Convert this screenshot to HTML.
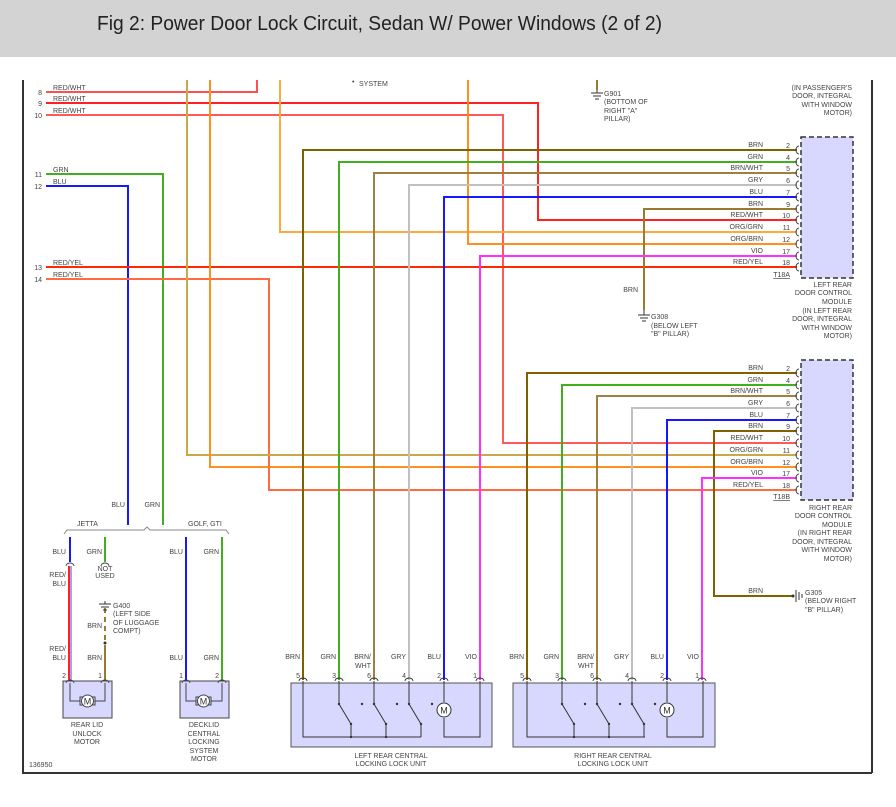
<!DOCTYPE html>
<html><head><meta charset="utf-8"><style>
html,body{margin:0;padding:0;background:#fff;}
svg{display:block;font-family:"Liberation Sans",sans-serif;}
.t{font-size:7px;fill:#444;}
.r{text-anchor:end;}
.m{text-anchor:middle;}
</style></head><body>
<svg width="896" height="807" viewBox="0 0 896 807" xmlns="http://www.w3.org/2000/svg">
<rect x="0" y="0" width="896" height="57" fill="#d3d3d3"/>
<text x="97" y="30" font-size="20" fill="#222" textLength="565" lengthAdjust="spacingAndGlyphs">Fig 2: Power Door Lock Circuit, Sedan W/ Power Windows (2 of 2)</text>
<!-- frame -->
<g stroke="#333" stroke-width="2" fill="none">
<path d="M23 80 V773 H872 M872 80 V773"/>
</g>
<g fill="none" stroke-width="2">
<!-- left side wires -->
<path d="M46 92 H257 V80" stroke="#ff5050"/>
<path d="M46 103 H538 V220 H797" stroke="#ff2020"/>
<path d="M46 115 H503 V443 H797" stroke="#ff5a5a"/>
<path d="M46 174 H163 V525" stroke="#40b020"/>
<path d="M46 186 H128 V525" stroke="#1818ff"/>
<path d="M46 267 H797" stroke="#ff2a00"/>
<path d="M46 279 H269 V490 H797" stroke="#ff6a40"/>
<!-- verticals from top -->
<path d="M187 80 V455 H797" stroke="#c8a848"/>
<path d="M210 80 V467 H797" stroke="#ff9020"/>
<path d="M280 80 V232 H797" stroke="#ffa840"/>
<path d="M468 80 V244 H797" stroke="#ff9020"/>
<!-- T18A wires -->
<path d="M797 150 H303 V680" stroke="#806000"/>
<path d="M797 162 H339 V680" stroke="#40b020"/>
<path d="M797 173 H374 V680" stroke="#a08040"/>
<path d="M797 185 H409 V680" stroke="#c0c0c0"/>
<path d="M797 197 H444 V680" stroke="#1818ff"/>
<path d="M797 209 H644 V310" stroke="#9a7a30"/>
<path d="M797 256 H480 V680" stroke="#ff30ff"/>
<!-- T18B wires -->
<path d="M797 373 H527 V680" stroke="#806000"/>
<path d="M797 385 H562 V680" stroke="#40b020"/>
<path d="M797 396 H597 V680" stroke="#a08040"/>
<path d="M797 408 H632 V680" stroke="#c0c0c0"/>
<path d="M797 420 H667 V680" stroke="#1818ff"/>
<path d="M797 431 H714 V596 H793" stroke="#806000"/>
<path d="M797 478 H702 V680" stroke="#ff30ff"/>
<!-- G901 -->
<path d="M597 80 V90" stroke="#9a7a30"/>
<!-- lower left -->
<path d="M70 537 V562" stroke="#1818ff"/>
<path d="M69 566 V680" stroke="#ff2020"/>
<path d="M71 566 V680" stroke="#4040ff" stroke-width="1"/>
<path d="M105 537 V562" stroke="#40b020"/>
<path d="M105 608 V640" stroke="#9a7a30" stroke-dasharray="5,4"/>
<path d="M105 645 V680" stroke="#9a7a30"/>
<path d="M186 537 V680" stroke="#1818ff"/>
<path d="M222 537 V680" stroke="#40b020"/>
</g>
<!-- brace -->
<path d="M64 534 L67 530 H144 L147 527 L150 530 H226 L229 534" fill="none" stroke="#888" stroke-width="1"/>
<!-- modules -->
<rect x="801" y="137" width="52" height="141" fill="#d8d8ff" stroke="#333" stroke-width="1.5" stroke-dasharray="5,3"/>
<rect x="801" y="360" width="52" height="140" fill="#d8d8ff" stroke="#333" stroke-width="1.5" stroke-dasharray="5,3"/>
<g fill="none" stroke="#444" stroke-width="1">
<path d="M799 146 a3 4 0 0 0 0 8 M799 158 a3 4 0 0 0 0 8 M799 169 a3 4 0 0 0 0 8 M799 181 a3 4 0 0 0 0 8 M799 193 a3 4 0 0 0 0 8 M799 205 a3 4 0 0 0 0 8 M799 216 a3 4 0 0 0 0 8 M799 228 a3 4 0 0 0 0 8 M799 240 a3 4 0 0 0 0 8 M799 252 a3 4 0 0 0 0 8 M799 263 a3 4 0 0 0 0 8"/>
<path d="M799 369 a3 4 0 0 0 0 8 M799 381 a3 4 0 0 0 0 8 M799 392 a3 4 0 0 0 0 8 M799 404 a3 4 0 0 0 0 8 M799 416 a3 4 0 0 0 0 8 M799 427 a3 4 0 0 0 0 8 M799 439 a3 4 0 0 0 0 8 M799 451 a3 4 0 0 0 0 8 M799 463 a3 4 0 0 0 0 8 M799 474 a3 4 0 0 0 0 8 M799 486 a3 4 0 0 0 0 8"/>
</g>
<!-- grounds -->
<g stroke="#333" stroke-width="1" fill="none">
<path d="M591 93 H603 M593 96 H601 M595 99 H599 M597 90 V93"/>
<path d="M638 315 H650 M640 318 H648 M642 321 H646 M644 310 V315"/>
<path d="M793 596 M796 590 V602 M799 592 V600 M802 594 V598"/>
<path d="M99 604 H111 M101 607 H109 M103 610 H107 M105 601 V604"/>
</g>
<circle cx="105" cy="643" r="1.5" fill="#333"/>
<circle cx="793" cy="596" r="1.5" fill="#333"/>
<!-- lower motors -->
<rect x="63" y="681" width="49" height="37" fill="#d8d8ff" stroke="#444" stroke-width="1"/>
<rect x="180" y="681" width="49" height="37" fill="#d8d8ff" stroke="#444" stroke-width="1"/>
<g fill="none" stroke="#444" stroke-width="1">
<path d="M70 683 V701 H80 M95 701 H105 V683"/>
<rect x="80" y="697" width="15" height="8"/>
<path d="M186 683 V701 H196 M211 701 H222 V683"/>
<rect x="196" y="697" width="15" height="8"/>
</g>
<circle cx="87.5" cy="701" r="6" fill="#fff" stroke="#444"/>
<text x="87.5" y="704.5" class="m" font-size="9" fill="#333">M</text>
<circle cx="203.5" cy="701" r="6" fill="#fff" stroke="#444"/>
<text x="203.5" y="704.5" class="m" font-size="9" fill="#333">M</text>
<!-- connectors small -->
<g fill="none" stroke="#444" stroke-width="1">
<path d="M66 566 a4 3 0 0 1 8 0 M101 566 a4 3 0 0 1 8 0 M66 683 a4 3 0 0 1 8 0 M101 683 a4 3 0 0 1 8 0 M182 683 a4 3 0 0 1 8 0 M218 683 a4 3 0 0 1 8 0"/>
</g>
<!-- lock units -->
<rect x="291" y="683" width="201" height="64" fill="#d8d8ff" stroke="#555" stroke-width="1"/>
<rect x="513" y="683" width="202" height="64" fill="#d8d8ff" stroke="#555" stroke-width="1"/>
<g fill="none" stroke="#333" stroke-width="1">
<path d="M299 681 a4 3 0 0 1 8 0 M335 681 a4 3 0 0 1 8 0 M370 681 a4 3 0 0 1 8 0 M405 681 a4 3 0 0 1 8 0 M440 681 a4 3 0 0 1 8 0 M476 681 a4 3 0 0 1 8 0"/>
<path d="M523 681 a4 3 0 0 1 8 0 M558 681 a4 3 0 0 1 8 0 M593 681 a4 3 0 0 1 8 0 M628 681 a4 3 0 0 1 8 0 M663 681 a4 3 0 0 1 8 0 M698 681 a4 3 0 0 1 8 0"/>
<path d="M303 681 V737 H421 M339 681 V704 L351 724 V737 M374 681 V704 L386 724 V737 M409 681 V704 L421 724 V737 M444 681 V702 M444 718 V737 H480 V681"/>
<path d="M527 681 V737 H645 M562 681 V704 L574 724 V737 M597 681 V704 L609 724 V737 M632 681 V704 L644 724 V737 M667 681 V702 M667 718 V737 H703 V681"/>
</g>
<g fill="#333">
<circle cx="339" cy="704" r="1.2"/><circle cx="351" cy="724" r="1.2"/><circle cx="374" cy="704" r="1.2"/><circle cx="386" cy="724" r="1.2"/><circle cx="409" cy="704" r="1.2"/><circle cx="421" cy="724" r="1.2"/>
<circle cx="362" cy="704" r="1.2"/><circle cx="397" cy="704" r="1.2"/><circle cx="432" cy="704" r="1.2"/><circle cx="351" cy="737" r="1.2"/><circle cx="386" cy="737" r="1.2"/>
<circle cx="562" cy="704" r="1.2"/><circle cx="574" cy="724" r="1.2"/><circle cx="597" cy="704" r="1.2"/><circle cx="609" cy="724" r="1.2"/><circle cx="632" cy="704" r="1.2"/><circle cx="644" cy="724" r="1.2"/>
<circle cx="585" cy="704" r="1.2"/><circle cx="620" cy="704" r="1.2"/><circle cx="655" cy="704" r="1.2"/><circle cx="574" cy="737" r="1.2"/><circle cx="609" cy="737" r="1.2"/>
</g>
<circle cx="444" cy="710" r="7" fill="#fff" stroke="#333"/><text x="444" y="713.5" class="m" font-size="9" fill="#333">M</text>
<circle cx="667" cy="710" r="7" fill="#fff" stroke="#333"/><text x="667" y="713.5" class="m" font-size="9" fill="#333">M</text>
<!-- text -->
<g class="t">
<text x="42" y="95" class="r">8</text><text x="53" y="90">RED/WHT</text>
<text x="42" y="106" class="r">9</text><text x="53" y="101">RED/WHT</text>
<text x="42" y="118" class="r">10</text><text x="53" y="113">RED/WHT</text>
<text x="42" y="177" class="r">11</text><text x="53" y="172">GRN</text>
<text x="42" y="189" class="r">12</text><text x="53" y="184">BLU</text>
<text x="42" y="270" class="r">13</text><text x="53" y="265">RED/YEL</text>
<text x="42" y="282" class="r">14</text><text x="53" y="277">RED/YEL</text>
<text x="359" y="86">SYSTEM</text><text x="352" y="84">•</text>
<text x="604" y="96">G901</text><text x="604" y="104">(BOTTOM OF</text><text x="604" y="113">RIGHT "A"</text><text x="604" y="121">PILLAR)</text>
<text x="852" y="90" class="r">(IN PASSENGER'S</text><text x="852" y="98" class="r">DOOR, INTEGRAL</text><text x="852" y="107" class="r">WITH WINDOW</text><text x="852" y="115" class="r">MOTOR)</text>
<text x="763" y="147" class="r">BRN</text><text x="763" y="159" class="r">GRN</text><text x="763" y="170" class="r">BRN/WHT</text><text x="763" y="182" class="r">GRY</text><text x="763" y="194" class="r">BLU</text><text x="763" y="206" class="r">BRN</text><text x="763" y="217" class="r">RED/WHT</text><text x="763" y="229" class="r">ORG/GRN</text><text x="763" y="241" class="r">ORG/BRN</text><text x="763" y="253" class="r">VIO</text><text x="763" y="264" class="r">RED/YEL</text>
<text x="790" y="148" class="r">2</text><text x="790" y="160" class="r">4</text><text x="790" y="171" class="r">5</text><text x="790" y="183" class="r">6</text><text x="790" y="195" class="r">7</text><text x="790" y="207" class="r">9</text><text x="790" y="218" class="r">10</text><text x="790" y="230" class="r">11</text><text x="790" y="242" class="r">12</text><text x="790" y="254" class="r">17</text><text x="790" y="265" class="r">18</text>
<text x="790" y="277" class="r" text-decoration="underline">T18A</text>
<text x="852" y="287" class="r">LEFT REAR</text><text x="852" y="295" class="r">DOOR CONTROL</text><text x="852" y="304" class="r">MODULE</text><text x="852" y="313" class="r">(IN LEFT REAR</text><text x="852" y="321" class="r">DOOR, INTEGRAL</text><text x="852" y="330" class="r">WITH WINDOW</text><text x="852" y="338" class="r">MOTOR)</text>
<text x="638" y="292" class="r">BRN</text>
<text x="651" y="319">G308</text><text x="651" y="328">(BELOW LEFT</text><text x="651" y="336">"B" PILLAR)</text>
<text x="763" y="370" class="r">BRN</text><text x="763" y="382" class="r">GRN</text><text x="763" y="393" class="r">BRN/WHT</text><text x="763" y="405" class="r">GRY</text><text x="763" y="417" class="r">BLU</text><text x="763" y="428" class="r">BRN</text><text x="763" y="440" class="r">RED/WHT</text><text x="763" y="452" class="r">ORG/GRN</text><text x="763" y="464" class="r">ORG/BRN</text><text x="763" y="475" class="r">VIO</text><text x="763" y="487" class="r">RED/YEL</text>
<text x="790" y="371" class="r">2</text><text x="790" y="383" class="r">4</text><text x="790" y="394" class="r">5</text><text x="790" y="406" class="r">6</text><text x="790" y="418" class="r">7</text><text x="790" y="429" class="r">9</text><text x="790" y="441" class="r">10</text><text x="790" y="453" class="r">11</text><text x="790" y="465" class="r">12</text><text x="790" y="476" class="r">17</text><text x="790" y="488" class="r">18</text>
<text x="790" y="499" class="r" text-decoration="underline">T18B</text>
<text x="852" y="510" class="r">RIGHT REAR</text><text x="852" y="518" class="r">DOOR CONTROL</text><text x="852" y="527" class="r">MODULE</text><text x="852" y="535" class="r">(IN RIGHT REAR</text><text x="852" y="544" class="r">DOOR, INTEGRAL</text><text x="852" y="552" class="r">WITH WINDOW</text><text x="852" y="561" class="r">MOTOR)</text>
<text x="763" y="593" class="r">BRN</text>
<text x="805" y="595">G305</text><text x="805" y="603">(BELOW RIGHT</text><text x="805" y="612">"B" PILLAR)</text>
<text x="125" y="507" class="r">BLU</text><text x="160" y="507" class="r">GRN</text>
<text x="77" y="526">JETTA</text><text x="188" y="526">GOLF, GTI</text>
<text x="66" y="554" class="r">BLU</text><text x="102" y="554" class="r">GRN</text>
<text x="183" y="554" class="r">BLU</text><text x="219" y="554" class="r">GRN</text>
<text x="66" y="577" class="r">RED/</text><text x="66" y="586" class="r">BLU</text>
<text x="105" y="571" class="m">NOT</text><text x="105" y="578" class="m">USED</text>
<text x="113" y="608">G400</text><text x="113" y="616">(LEFT SIDE</text><text x="113" y="625">OF LUGGAGE</text><text x="113" y="633">COMPT)</text>
<text x="102" y="628" class="r">BRN</text>
<text x="66" y="651" class="r">RED/</text><text x="66" y="660" class="r">BLU</text>
<text x="102" y="660" class="r">BRN</text><text x="183" y="660" class="r">BLU</text><text x="219" y="660" class="r">GRN</text>
<text x="66" y="678" class="r">2</text><text x="102" y="678" class="r">1</text><text x="183" y="678" class="r">1</text><text x="219" y="678" class="r">2</text>
<text x="87" y="727" class="m">REAR LID</text><text x="87" y="736" class="m">UNLOCK</text><text x="87" y="744" class="m">MOTOR</text>
<text x="204" y="727" class="m">DECKLID</text><text x="204" y="736" class="m">CENTRAL</text><text x="204" y="744" class="m">LOCKING</text><text x="204" y="753" class="m">SYSTEM</text><text x="204" y="761" class="m">MOTOR</text>
<text x="29" y="767">136950</text>
<text x="300" y="659" class="r">BRN</text><text x="336" y="659" class="r">GRN</text><text x="371" y="659" class="r">BRN/</text><text x="371" y="668" class="r">WHT</text><text x="406" y="659" class="r">GRY</text><text x="441" y="659" class="r">BLU</text><text x="477" y="659" class="r">VIO</text>
<text x="300" y="678" class="r">5</text><text x="336" y="678" class="r">3</text><text x="371" y="678" class="r">6</text><text x="406" y="678" class="r">4</text><text x="441" y="678" class="r">2</text><text x="477" y="678" class="r">1</text>
<text x="524" y="659" class="r">BRN</text><text x="559" y="659" class="r">GRN</text><text x="594" y="659" class="r">BRN/</text><text x="594" y="668" class="r">WHT</text><text x="629" y="659" class="r">GRY</text><text x="664" y="659" class="r">BLU</text><text x="699" y="659" class="r">VIO</text>
<text x="524" y="678" class="r">5</text><text x="559" y="678" class="r">3</text><text x="594" y="678" class="r">6</text><text x="629" y="678" class="r">4</text><text x="664" y="678" class="r">2</text><text x="699" y="678" class="r">1</text>
<text x="391" y="758" class="m">LEFT REAR CENTRAL</text><text x="391" y="766" class="m">LOCKING LOCK UNIT</text>
<text x="613" y="758" class="m">RIGHT REAR CENTRAL</text><text x="613" y="766" class="m">LOCKING LOCK UNIT</text>
</g>
</svg>
</body></html>
